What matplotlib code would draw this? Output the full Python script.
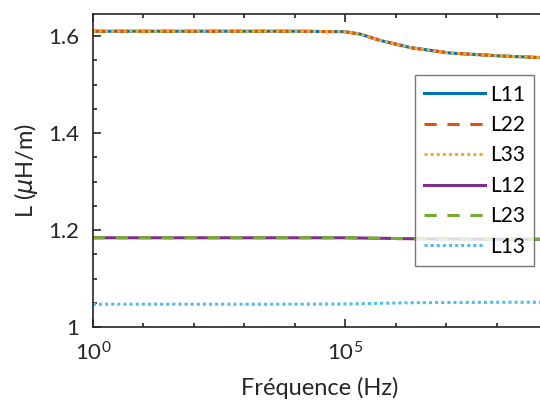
import matplotlib
matplotlib.use('Agg')
import matplotlib.pyplot as plt
from matplotlib.ticker import FixedLocator, NullFormatter, MultipleLocator

# Frequency points (Hz) and inductance values (uH/m)
freq = [1e0, 1e1, 1e2, 1e3, 1e4, 1e5, 2e5, 5e5, 2e6, 1.2e7, 1.2e8, 1e9]
l_self = [1.610, 1.610, 1.610, 1.610, 1.610, 1.609, 1.604, 1.591, 1.576, 1.565, 1.559, 1.555]
l12 = [1.184, 1.184, 1.184, 1.184, 1.184, 1.184, 1.1835, 1.183, 1.182, 1.1815, 1.181, 1.181]
l13 = [1.047, 1.047, 1.047, 1.047, 1.047, 1.0475, 1.048, 1.049, 1.050, 1.0505, 1.051, 1.051]

series = [
    ('L11', l_self, '#0072BD', '-'),
    ('L22', l_self, '#D95319', (0, (4, 3.5))),
    ('L33', l_self, '#EDB120', (0, (1, 1))),
    ('L12', l12, '#7E2F8E', '-'),
    ('L23', l12, '#77AC30', (0, (4, 3.5))),
    ('L13', l13, '#4DBEEE', (0, (1, 1))),
]

plt.rcParams['font.family'] = ['Lato', 'DejaVu Sans']
text_color = '#262626'

fig = plt.figure(figsize=(5.4, 4.03), dpi=100)
ax = fig.add_axes([0.172, 0.1886, 0.841, 0.776])

for name, vals, color, ls in series:
    ax.plot(freq, vals, color=color, linestyle=ls, linewidth=2.2, label=name)

ax.set_xscale('log')
ax.set_xlim(1, 1e9)
ax.set_ylim(1, 1.645)

ax.xaxis.set_major_locator(FixedLocator([1e0, 1e5]))
ax.xaxis.set_minor_locator(FixedLocator([10.0 ** k for k in range(1, 10) if k != 5]))
ax.xaxis.set_minor_formatter(NullFormatter())
ax.yaxis.set_major_locator(MultipleLocator(0.2))
ax.yaxis.set_minor_locator(MultipleLocator(0.05))

ax.tick_params(which='both', direction='in', top=True, right=False,
               colors=text_color, labelsize=16)
ax.tick_params(axis='x', which='major', pad=10)
ax.tick_params(axis='y', which='major', pad=10)
ax.tick_params(which='major', length=6, width=1.2)
ax.tick_params(which='minor', length=3, width=1.2)
ax.set_yticks([1, 1.2, 1.4, 1.6])
ax.set_yticklabels(['1', '1.2', '1.4', '1.6'])

for side in ['left', 'bottom', 'top']:
    ax.spines[side].set_color(text_color)
    ax.spines[side].set_linewidth(1.2)
ax.spines['right'].set_visible(False)

ax.set_xlabel('Fréquence (Hz)', fontsize=17, color=text_color, labelpad=9)
ax.set_ylabel('L ($\\mu$H/m)', fontsize=17, color=text_color, labelpad=6)

leg = ax.legend(loc='upper left', bbox_to_anchor=(0.709, 0.805), fontsize=15,
                frameon=True, fancybox=False, edgecolor='#555555',
                handlelength=2.9, handletextpad=0.25, borderpad=0.45,
                labelspacing=0.5, borderaxespad=0)
leg.get_frame().set_linewidth(1.0)

fig.savefig('out.png', dpi=100)
